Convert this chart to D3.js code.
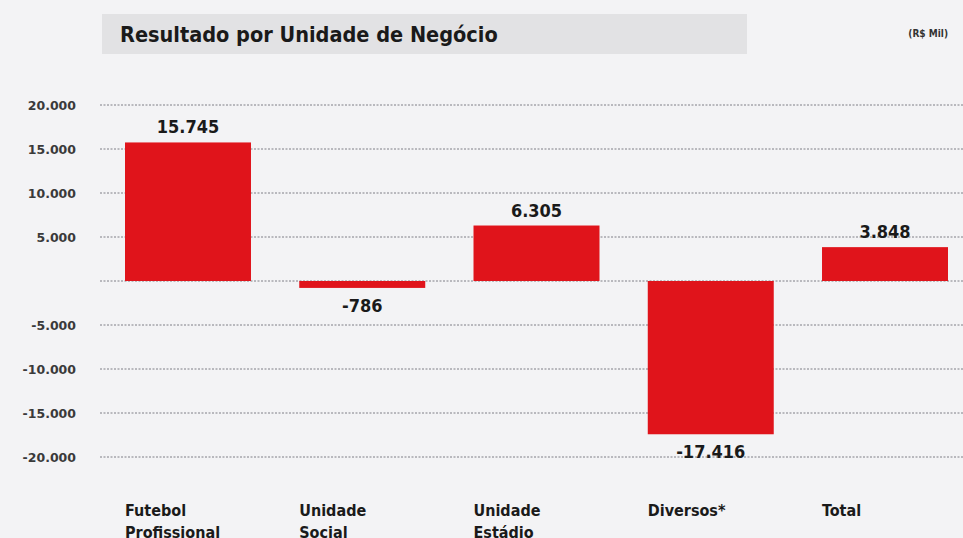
<!DOCTYPE html>
<html>
<head>
<meta charset="utf-8">
<script src="https://cdn.jsdelivr.net/npm/d3@7"></script>
<style>
  body { margin: 0; background: #f3f3f5; }
  svg { display: block; font-family: "DejaVu Sans Condensed", "Liberation Sans Narrow", "Liberation Sans", sans-serif; font-stretch: condensed; }
</style>
</head>
<body>
<div class="chart"></div>
<script>
//Data
var categories = [["Futebol", "Profissional"], ["Unidade", "Social"], ["Unidade", "Estádio"], ["Diversos*"], ["Total"]];
var values = [15745, -786, 6305, -17416, 3848];
var valueLabels = ["15.745", "-786", "6.305", "-17.416", "3.848"];
var tickValues = [20000, 15000, 10000, 5000, 0, -5000, -10000, -15000, -20000];
var tickLabels = ["20.000", "15.000", "10.000", "5.000", "", "-5.000", "-10.000", "-15.000", "-20.000"];

var svgWidth = 963;
var svgHeight = 538;

var svg = d3.select(".chart")
    .append("svg")
    .attr("width", svgWidth)
    .attr("height", svgHeight);

//Title band
svg.append("rect")
    .attr("x", 102).attr("y", 14)
    .attr("width", 645).attr("height", 40)
    .attr("fill", "#e2e2e4");

svg.append("text")
    .attr("x", 120).attr("y", 42)
    .attr("font-size", "21.5px")
    .attr("font-weight", "bold")
    .attr("fill", "#1a1a1a")
    .text("Resultado por Unidade de Negócio");

svg.append("text")
    .attr("x", 948).attr("y", 37)
    .attr("text-anchor", "end")
    .attr("font-size", "10px")
    .attr("font-weight", "bold")
    .attr("fill", "#333")
    .text("(R$ Mil)");

//Scales
var xScale = d3.scaleBand()
    .domain(d3.range(values.length))
    .range([125, 948])
    .paddingInner(0.277)
    .paddingOuter(0);

var yScale = d3.scaleLinear()
    .domain([-20000, 20000])
    .range([457, 105]);

//Grid lines
svg.append("g")
    .selectAll("line")
    .data(tickValues)
    .enter()
    .append("line")
    .attr("x1", 100)
    .attr("x2", svgWidth)
    .attr("y1", d => yScale(d))
    .attr("y2", d => yScale(d))
    .attr("stroke", "#7f7f86")
    .attr("stroke-width", 1)
    .attr("stroke-dasharray", "2,1.5");

//Y axis labels
var leftAxis = d3.axisLeft(yScale)
    .tickValues(tickValues)
    .tickFormat((d, i) => tickLabels[i])
    .tickSize(0)
    .tickPadding(0);

var axisG = svg.append("g")
    .attr("transform", "translate(76,0)")
    .call(leftAxis);
axisG.select(".domain").remove();
axisG.selectAll("text")
    .attr("font-family", "\"DejaVu Sans\", \"Liberation Sans\", sans-serif")
    .style("font-stretch", "normal")
    .attr("font-size", "12.5px")
    .attr("font-weight", "bold")
    .attr("fill", "#3a3a3a");

//Bars
svg.append("g")
    .selectAll("rect")
    .data(values)
    .enter()
    .append("rect")
    .attr("x", (d, i) => xScale(i))
    .attr("y", d => yScale(Math.max(0, d)))
    .attr("width", xScale.bandwidth())
    .attr("height", d => Math.abs(yScale(d) - yScale(0)))
    .attr("fill", "#e0141b");

//Value labels
svg.append("g")
    .selectAll("text")
    .data(values)
    .enter()
    .append("text")
    .attr("x", (d, i) => xScale(i) + xScale.bandwidth() / 2)
    .attr("y", d => d >= 0 ? yScale(d) - 9 : yScale(d) + 24)
    .attr("text-anchor", "middle")
    .attr("font-size", "18px")
    .attr("font-weight", "bold")
    .attr("fill", "#1a1a1a")
    .text((d, i) => valueLabels[i]);

//Category labels
var catG = svg.append("g")
    .selectAll("text")
    .data(categories)
    .enter()
    .append("text")
    .attr("x", (d, i) => xScale(i))
    .attr("y", 516)
    .attr("font-size", "16px")
    .attr("font-weight", "bold")
    .attr("fill", "#1a1a1a");

catG.selectAll("tspan")
    .data(d => d)
    .enter()
    .append("tspan")
    .attr("x", function() { return d3.select(this.parentNode).attr("x"); })
    .attr("dy", (d, i) => i === 0 ? 0 : 22)
    .text(d => d);
</script>
</body>
</html>
